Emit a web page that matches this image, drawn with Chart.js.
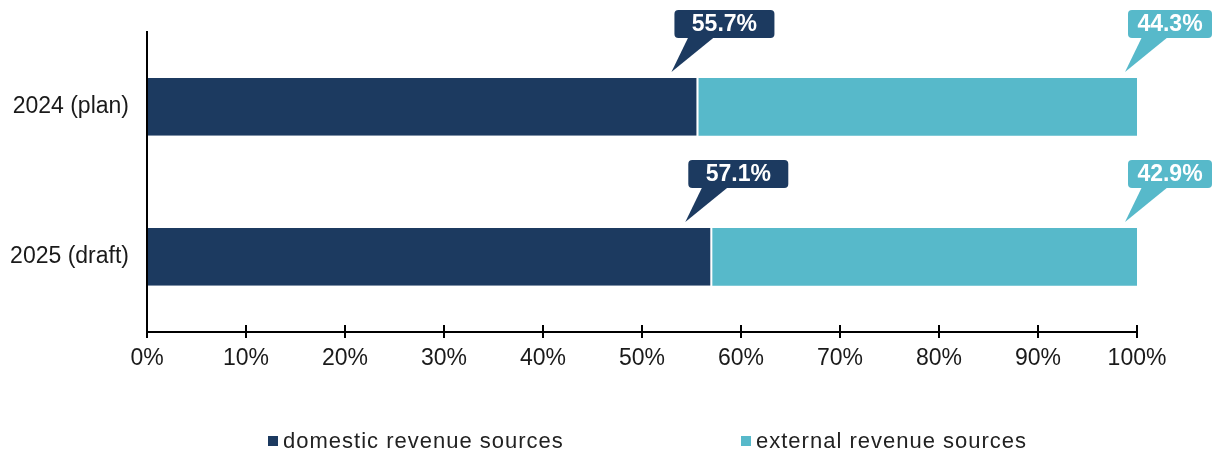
<!DOCTYPE html>
<html>
<head>
<meta charset="utf-8">
<script src="https://cdn.jsdelivr.net/npm/chart.js@4.4.1/dist/chart.umd.min.js"></script>
<style>
  html, body { margin: 0; padding: 0; background: #fff; }
  #wrap { width: 1213px; height: 452px; position: relative; }
</style>
</head>
<body>
<div id="wrap"><canvas id="revChart"></canvas></div>
<script>
const years = ['2024 (plan)', '2025 (draft)'];
const domestic = [55.7, 57.1];
const external = [44.3, 42.9];
const seriesNames = ['domestic revenue sources', 'external revenue sources'];

const NAVY = '#1c3a60';
const TEAL = '#57b9ca';
const FONT = "'Liberation Sans', Arial, sans-serif";

// speech-bubble labels above the right end of each segment
const bubbleLabels = {
    id: 'bubbleLabels',
    afterDatasetsDraw(chart) {
        const ctx = chart.ctx;
        chart.data.datasets.forEach((ds, di) => {
            const meta = chart.getDatasetMeta(di);
            const w = di === 0 ? 100 : 84;
            const h = 28;
            meta.data.forEach((bar, i) => {
                const xEnd = bar.x;
                const yTop = bar.y - bar.height / 2;
                const tipX = xEnd - (di === 0 ? 27 : 12);
                const tipY = yTop - 6;
                const left = tipX + 3;
                const top = yTop - 68;
                const bottom = top + h;
                ctx.save();
                ctx.fillStyle = ds.backgroundColor;
                ctx.beginPath();
                ctx.roundRect(left, top, w, h, 4);
                ctx.fill();
                ctx.beginPath();
                ctx.moveTo(left + 14, bottom - 1);
                ctx.lineTo(left + 40, bottom - 1);
                ctx.lineTo(tipX, tipY);
                ctx.closePath();
                ctx.fill();
                ctx.fillStyle = '#fff';
                ctx.font = 'bold 23px ' + FONT;
                ctx.textAlign = 'center';
                ctx.textBaseline = 'middle';
                ctx.fillText(ds.data[i].toFixed(1) + '%', left + w / 2, top + h / 2 + 1);
                ctx.restore();
            });
        });
    }
};

// small tick marks that cross the x axis, plus the legend row
const extras = {
    id: 'extras',
    afterDraw(chart) {
        const ctx = chart.ctx;
        const xs = chart.scales.x;
        const area = chart.chartArea;
        ctx.save();
        ctx.strokeStyle = '#000';
        ctx.lineWidth = 2;
        for (let v = 10; v <= 100; v += 10) {
            const px = Math.round(xs.getPixelForValue(v));
            ctx.beginPath();
            ctx.moveTo(px, area.bottom - 7);
            ctx.lineTo(px, area.bottom);
            ctx.stroke();
        }
        // legend
        const legendX = [268, 741];
        const colors = [NAVY, TEAL];
        ctx.font = '22px ' + FONT;
        ctx.textBaseline = 'middle';
        ctx.letterSpacing = '1px';
        seriesNames.forEach((name, i) => {
            ctx.fillStyle = colors[i];
            ctx.fillRect(legendX[i], 436, 10, 10);
            ctx.fillStyle = '#222';
            ctx.fillText(name, legendX[i] + 15, 442);
        });
        ctx.restore();
    }
};

new Chart(document.getElementById('revChart'), {
    type: 'bar',
    data: {
        labels: years,
        datasets: [
            {
                label: seriesNames[0],
                data: domestic,
                backgroundColor: NAVY,
                borderColor: '#fff',
                borderWidth: { top: 0, bottom: 0, left: 0, right: 2 },
                borderSkipped: false
            },
            {
                label: seriesNames[1],
                data: external,
                backgroundColor: TEAL,
                borderWidth: 0
            }
        ]
    },
    options: {
        indexAxis: 'y',
        responsive: true,
        maintainAspectRatio: false,
        animation: false,
        datasets: { bar: { categoryPercentage: 0.77, barPercentage: 0.5 } },
        layout: { padding: { top: 30, right: 76, left: 0, bottom: 0 } },
        plugins: {
            legend: { display: false },
            tooltip: { enabled: false }
        },
        scales: {
            x: {
                stacked: true,
                min: 0,
                max: 100,
                ticks: {
                    stepSize: 10,
                    color: '#1a1a1a',
                    font: { family: FONT, size: 23 },
                    padding: 7,
                    callback: v => v + '%'
                },
                grid: { drawOnChartArea: false, color: '#000', lineWidth: 2, tickLength: 6 },
                border: { color: '#000', width: 2 },
                afterFit(scale) { scale.height = 120; }
            },
            y: {
                stacked: true,
                ticks: {
                    color: '#1a1a1a',
                    font: { family: FONT, size: 23 },
                    padding: 18
                },
                grid: { display: false, drawTicks: false },
                border: { color: '#000', width: 2 },
                afterFit(scale) { scale.width = 147; }
            }
        }
    },
    plugins: [bubbleLabels, extras]
});
</script>
</body>
</html>
